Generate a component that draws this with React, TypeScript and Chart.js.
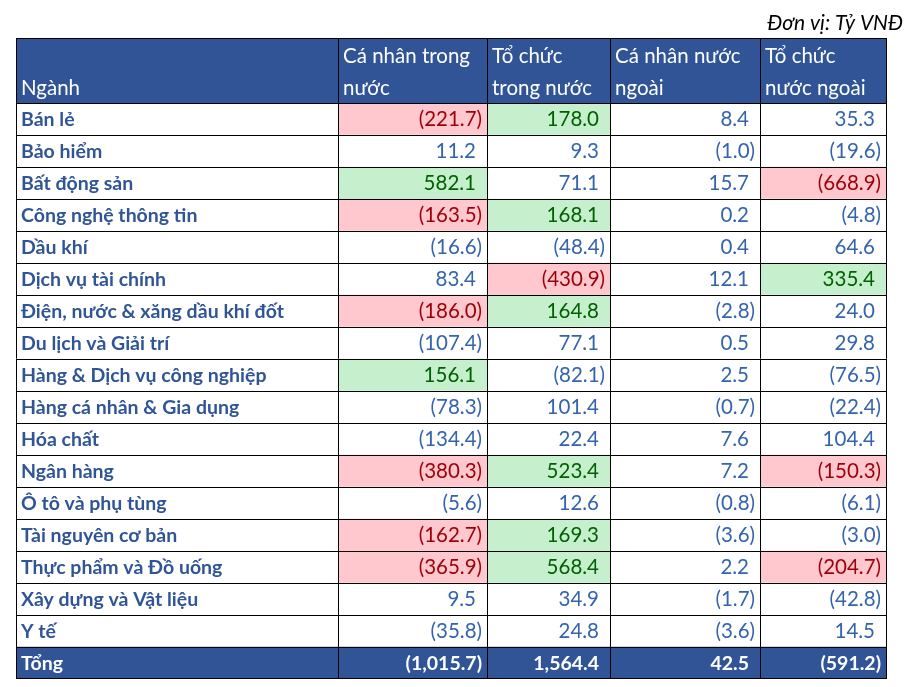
import React, { useEffect, useRef } from "react";
import { Chart, registerables } from "chart.js";

Chart.register(...registerables);

// ---------- DATA ----------
const unitNote = "Đơn vị: Tỷ VNĐ";
const firstHeader = "Ngành";
const columnHeaders: string[][] = [
  ["Cá nhân trong", "nước"],
  ["Tổ chức", "trong nước"],
  ["Cá nhân nước", "ngoài"],
  ["Tổ chức", "nước ngoài"],
];
const sectors = [
  "Bán lẻ",
  "Bảo hiểm",
  "Bất động sản",
  "Công nghệ thông tin",
  "Dầu khí",
  "Dịch vụ tài chính",
  "Điện, nước & xăng dầu khí đốt",
  "Du lịch và Giải trí",
  "Hàng & Dịch vụ công nghiệp",
  "Hàng cá nhân & Gia dụng",
  "Hóa chất",
  "Ngân hàng",
  "Ô tô và phụ tùng",
  "Tài nguyên cơ bản",
  "Thực phẩm và Đồ uống",
  "Xây dựng và Vật liệu",
  "Y tế",
  "Tổng",
];
const caNhanTrongNuoc = [-221.7, 11.2, 582.1, -163.5, -16.6, 83.4, -186.0, -107.4, 156.1, -78.3, -134.4, -380.3, -5.6, -162.7, -365.9, 9.5, -35.8, -1015.7];
const toChucTrongNuoc = [178.0, 9.3, 71.1, 168.1, -48.4, -430.9, 164.8, 77.1, -82.1, 101.4, 22.4, 523.4, 12.6, 169.3, 568.4, 34.9, 24.8, 1564.4];
const caNhanNuocNgoai = [8.4, -1.0, 15.7, 0.2, 0.4, 12.1, -2.8, 0.5, 2.5, -0.7, 7.6, 7.2, -0.8, -3.6, 2.2, -1.7, -3.6, 42.5];
const toChucNuocNgoai = [35.3, -19.6, -668.9, -4.8, 64.6, 335.4, 24.0, 29.8, -76.5, -22.4, 104.4, -150.3, -6.1, -3.0, -204.7, -42.8, 14.5, -591.2];
// highlight flags: "r" = red cell, "g" = green cell
const hlCaNhanTrongNuoc = ["r", "", "g", "r", "", "", "r", "", "g", "", "", "r", "", "r", "r", "", "", ""];
const hlToChucTrongNuoc = ["g", "", "", "g", "", "r", "g", "", "", "", "", "g", "", "g", "g", "", "", ""];
const hlCaNhanNuocNgoai = ["", "", "", "", "", "", "", "", "", "", "", "", "", "", "", "", "", ""];
const hlToChucNuocNgoai = ["", "", "r", "", "", "g", "", "", "", "", "", "r", "", "", "r", "", "", ""];

// ---------- LAYOUT / STYLE ----------
const W = 908;
const H = 687;
const COL_EDGES = [0, 322, 471, 594, 744, 870]; // table units (px from table left)
const TABLE_LEFT = 16;
const TABLE_TOP = 38;
const BODY_TOP = 103;
const ROW_H = 32;
const HEADER_BG = "#305496";
const LABEL_COLOR = "#2F5597";
const NUM_COLOR = "#3464AE";
const RED_BG = "#FFC7CE";
const RED_TX = "#9C0006";
const GREEN_BG = "#C6EFCE";
const GREEN_TX = "#006100";
const FONT = "Lato, 'Open Sans', sans-serif";
const REG = `20.5px ${FONT}`;
const BOLD = `bold 19.5px ${FONT}`;

const columns = [caNhanTrongNuoc, toChucTrongNuoc, caNhanNuocNgoai, toChucNuocNgoai];
const highlights = [hlCaNhanTrongNuoc, hlToChucTrongNuoc, hlCaNhanNuocNgoai, hlToChucNuocNgoai];

function fmt(v: number): string {
  const s = Math.abs(v).toLocaleString("en-US", { minimumFractionDigits: 1, maximumFractionDigits: 1 });
  return v < 0 ? `(${s})` : s;
}

const isTotal = (i: number) => i === sectors.length - 1;

function cellBg(hl: string, i: number): string {
  if (isTotal(i)) return HEADER_BG;
  if (hl === "r") return RED_BG;
  if (hl === "g") return GREEN_BG;
  return "#FFFFFF";
}

const tablePlugin = {
  id: "tablePlugin",
  afterDatasetsDraw(chart: any) {
    const ctx: CanvasRenderingContext2D = chart.ctx;
    const xs = chart.scales.x;
    const ys = chart.scales.y;
    const area = chart.chartArea;
    const px = (u: number) => xs.getPixelForValue(u);
    const n = sectors.length;
    const half = ROW_H / 2;
    ctx.save();

    // header background
    ctx.fillStyle = HEADER_BG;
    ctx.fillRect(px(0), TABLE_TOP, px(COL_EDGES[5]) - px(0), area.top - TABLE_TOP);

    // unit note
    ctx.fillStyle = "#000";
    ctx.font = `italic 21px ${FONT}`;
    ctx.textAlign = "right";
    ctx.textBaseline = "alphabetic";
    ctx.fillText(unitNote, 903, 30);

    // header text
    ctx.fillStyle = "#FFFFFF";
    ctx.font = REG;
    ctx.textAlign = "left";
    ctx.fillText(firstHeader, px(COL_EDGES[0]) + 5, 95);
    columnHeaders.forEach((lines, c) => {
      const x = px(COL_EDGES[c + 1]) + 5;
      ctx.fillText(lines[0], x, 63);
      ctx.fillText(lines[1], x, 95);
    });

    // body text
    for (let i = 0; i < n; i++) {
      const cy = ys.getPixelForValue(i);
      const base = cy - half + 23;
      const total = isTotal(i);
      ctx.textAlign = "left";
      ctx.font = BOLD;
      ctx.fillStyle = total ? "#FFFFFF" : LABEL_COLOR;
      ctx.fillText(sectors[i], px(COL_EDGES[0]) + 5, base);
      ctx.textAlign = "right";
      ctx.font = total ? BOLD : REG;
      columns.forEach((col, c) => {
        const v = col[i];
        const hl = highlights[c][i];
        ctx.fillStyle = total ? "#FFFFFF" : hl === "r" ? RED_TX : hl === "g" ? GREEN_TX : NUM_COLOR;
        const right = px(COL_EDGES[c + 2]) - (v < 0 ? 5 : 11);
        ctx.fillText(fmt(v), right, base);
      });
    }

    // grid lines
    ctx.strokeStyle = "#000";
    ctx.lineWidth = 1;
    ctx.beginPath();
    const bottom = ys.getPixelForValue(n - 1) + half;
    const hLine = (y: number) => {
      ctx.moveTo(px(0), Math.round(y) + 0.5);
      ctx.lineTo(px(COL_EDGES[5]), Math.round(y) + 0.5);
    };
    hLine(TABLE_TOP);
    for (let i = 0; i < n; i++) hLine(ys.getPixelForValue(i) - half);
    hLine(bottom - 1);
    COL_EDGES.forEach((e) => {
      const x = Math.round(px(e)) + 0.5;
      ctx.moveTo(x, TABLE_TOP);
      ctx.lineTo(x, bottom);
    });
    ctx.stroke();
    ctx.restore();
  },
};

export default function App() {
  const ref = useRef<HTMLCanvasElement | null>(null);
  useEffect(() => {
    if (!ref.current) return;
    const datasets = [0, 1, 2, 3, 4].map((c) => ({
      label: c === 0 ? firstHeader : columnHeaders[c - 1].join(" "),
      data: sectors.map(() => [COL_EDGES[c], COL_EDGES[c + 1]] as [number, number]),
      backgroundColor: sectors.map((_, i) => (c === 0 ? (isTotal(i) ? HEADER_BG : "#FFFFFF") : cellBg(highlights[c - 1][i], i))),
      borderWidth: 0,
      barPercentage: 1,
      categoryPercentage: 1,
      grouped: false,
    }));
    const chart = new Chart(ref.current, {
      type: "bar",
      data: { labels: sectors, datasets },
      options: {
        indexAxis: "y",
        responsive: false,
        animation: false,
        devicePixelRatio: 1,
        layout: { padding: { top: BODY_TOP, left: TABLE_LEFT, right: W - TABLE_LEFT - COL_EDGES[5], bottom: H - BODY_TOP - ROW_H * sectors.length } },
        scales: {
          x: { type: "linear", min: 0, max: COL_EDGES[5], display: false },
          y: { type: "category", display: false, offset: true },
        },
        plugins: { legend: { display: false }, tooltip: { enabled: false }, title: { display: false } },
      } as any,
      plugins: [tablePlugin],
    });
    return () => chart.destroy();
  }, []);
  return (
    <div style={{ position: "absolute", left: 0, top: 0, width: W, height: H, background: "#fff" }}>
      <canvas ref={ref} width={W} height={H} style={{ width: W, height: H, display: "block" }} />
    </div>
  );
}
